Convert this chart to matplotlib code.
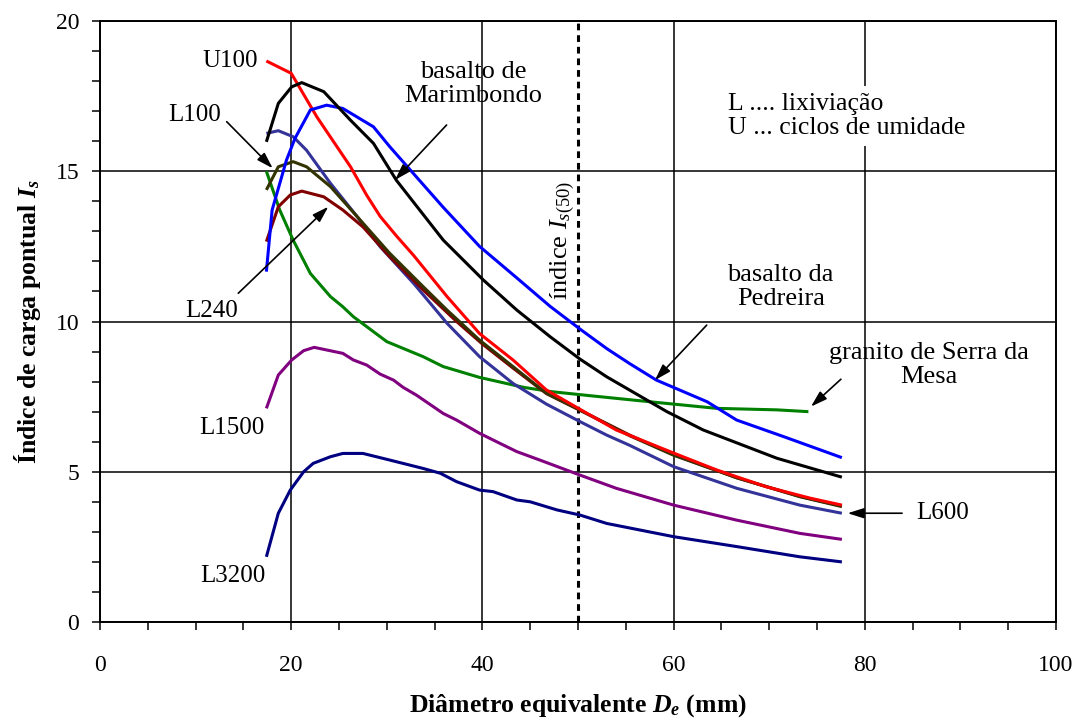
import matplotlib
matplotlib.use('Agg')
import matplotlib.pyplot as plt
from matplotlib.ticker import MultipleLocator

plt.rcParams['font.family'] = ['Liberation Serif', 'DejaVu Serif']
plt.rcParams['mathtext.fontset'] = 'custom'
plt.rcParams['mathtext.rm'] = 'Liberation Serif'
plt.rcParams['mathtext.it'] = 'Liberation Serif:italic'
plt.rcParams['mathtext.bf'] = 'Liberation Serif:bold'
plt.rcParams['mathtext.bfit'] = 'Liberation Serif:italic:bold'

# --- data (De in mm, Is) ---
u100_x = [17.4, 20.0, 22.7, 26.2, 27.9, 29.3, 31.0, 32.8, 36.3, 39.7, 43.2, 46.7, 50.2, 54.0, 60.1, 64.5, 69.7, 74.3, 77.6]
u100_y = [18.67, 18.26, 16.8, 15.15, 14.2, 13.5, 12.85, 12.2, 10.83, 9.6, 8.72, 7.72, 7.08, 6.39, 5.61, 5.06, 4.5, 4.12, 3.89]

marimbondo_x = [17.4, 18.65, 20.05, 21.1, 23.4, 26.2, 28.6, 31.0, 35.9, 40.1, 43.6, 47.1, 50.2, 53.0, 59.3, 63.1, 70.8, 77.6]
marimbondo_y = [15.98, 17.26, 17.81, 17.95, 17.65, 16.7, 15.93, 14.7, 12.71, 11.38, 10.38, 9.49, 8.75, 8.16, 7.0, 6.39, 5.45, 4.82]

pedreira_x = [17.4, 18.0, 19.5, 20.4, 22.0, 23.7, 25.4, 28.6, 30.3, 35.9, 39.7, 43.6, 47.1, 50.2, 53.0, 55.4, 58.2, 63.5, 66.6, 71.5, 77.6]
pedreira_y = [11.66, 13.71, 15.37, 16.1, 17.04, 17.2, 17.09, 16.48, 15.82, 13.8, 12.5, 11.45, 10.5, 9.75, 9.1, 8.6, 8.05, 7.33, 6.72, 6.17, 5.47]

l600_x = [17.4, 18.65, 20.2, 21.6, 24.1, 26.9, 29.3, 32.8, 36.3, 39.7, 43.2, 46.7, 50.2, 53.0, 55.4, 60.0, 66.6, 73.2, 77.6]
l600_y = [16.26, 16.35, 16.15, 15.7, 14.6, 13.49, 12.49, 11.27, 9.94, 8.83, 7.94, 7.25, 6.67, 6.22, 5.88, 5.17, 4.45, 3.89, 3.62]

l100_x = [17.4, 18.65, 20.2, 21.6, 24.1, 26.9, 30.3, 33.8, 36.3, 39.7, 43.2, 46.7, 50.2, 55.4, 60.0, 66.6, 73.2, 77.6]
l100_y = [14.38, 15.15, 15.32, 15.15, 14.49, 13.49, 12.27, 11.16, 10.38, 9.38, 8.5, 7.61, 7.05, 6.2, 5.55, 4.8, 4.17, 3.84]

l240_x = [17.4, 18.65, 19.9, 21.1, 23.4, 25.4, 27.5, 30.3, 33.8, 37.3, 40.0, 43.2, 46.7, 50.2, 55.4, 60.0, 66.6, 73.2, 77.6]
l240_y = [12.66, 13.82, 14.21, 14.34, 14.15, 13.71, 13.15, 12.16, 11.05, 10.0, 9.25, 8.45, 7.6, 7.05, 6.22, 5.57, 4.8, 4.18, 3.86]

granito_x = [17.4, 18.8, 20.2, 22.0, 24.1, 25.4, 26.5, 30.0, 33.8, 35.9, 39.7, 44.3, 47.1, 51.3, 57.5, 64.5, 70.8, 74.1]
granito_y = [15.0, 13.71, 12.71, 11.6, 10.83, 10.49, 10.16, 9.33, 8.83, 8.5, 8.14, 7.81, 7.67, 7.53, 7.33, 7.11, 7.06, 7.0]

l1500_x = [17.4, 18.65, 20.05, 21.3, 22.4, 25.4, 26.5, 27.9, 29.3, 30.7, 31.7, 33.1, 35.9, 37.3, 39.7, 41.8, 43.6, 46.0, 50.2, 54.0, 60.0, 66.6, 73.2, 77.6]
l1500_y = [7.11, 8.22, 8.72, 9.03, 9.14, 8.94, 8.72, 8.55, 8.25, 8.05, 7.81, 7.55, 6.94, 6.72, 6.28, 5.95, 5.67, 5.39, 4.89, 4.45, 3.89, 3.39, 2.95, 2.75]

l3200_x = [17.4, 18.65, 19.9, 21.3, 22.3, 24.1, 25.4, 27.5, 30.3, 33.8, 35.6, 37.3, 39.7, 41.1, 43.6, 45.0, 47.8, 50.2, 53.0, 60.0, 66.6, 73.2, 77.6]
l3200_y = [2.17, 3.62, 4.39, 5.0, 5.28, 5.5, 5.61, 5.61, 5.39, 5.11, 4.95, 4.67, 4.39, 4.34, 4.06, 4.0, 3.73, 3.56, 3.28, 2.84, 2.51, 2.17, 2.0]

is50_x = 50

fig = plt.figure(figsize=(10.78, 7.2), dpi=100)
ax = fig.add_axes([0.0928, 0.1361, 0.8868, 0.8347])

series = [
    (l3200_x, l3200_y, '#000080'),
    (l1500_x, l1500_y, '#800080'),
    (granito_x, granito_y, '#008000'),
    (l600_x, l600_y, '#333399'),
    (l240_x, l240_y, '#800000'),
    (l100_x, l100_y, '#333300'),
    (u100_x, u100_y, '#FF0000'),
    (pedreira_x, pedreira_y, '#0000FF'),
    (marimbondo_x, marimbondo_y, '#000000'),
]
for xs, ys, c in series:
    ax.plot(xs, ys, color=c, lw=2.2, solid_capstyle='butt', solid_joinstyle='round', zorder=3)

ax.axvline(is50_x, color='black', lw=2.2, ls=(0, (2.2, 1.6)), zorder=2)

ax.set_xlim(0, 100)
ax.set_ylim(0, 20)
ax.xaxis.set_major_locator(MultipleLocator(20))
ax.xaxis.set_minor_locator(MultipleLocator(5))
ax.yaxis.set_major_locator(MultipleLocator(5))
ax.yaxis.set_minor_locator(MultipleLocator(1))
ax.grid(True, which='major', color='black', lw=1.1)
ax.tick_params(which='both', direction='out', length=6, width=1.1, labelsize=17)
ax.tick_params(axis='x', pad=18)
ax.tick_params(axis='y', pad=9)
for s in ax.spines.values():
    s.set_linewidth(1.4)

ax.set_xlabel(r'Diâmetro equivalente $\mathbfit{D}_{\mathbfit{e}}$ (mm)', fontsize=18.5, fontweight='bold')
ax.xaxis.set_label_coords(0.5, -0.116)
ax.set_ylabel(r'Índice de carga pontual $\mathbfit{I}_{\mathbfit{s}}$', fontsize=18.5, fontweight='bold')
ax.yaxis.set_label_coords(-0.06, 0.5)

fs = 18
fs2 = 19
arr = dict(arrowstyle='-|>,head_length=0.7,head_width=0.22', color='black', lw=1.2,
           shrinkA=0, shrinkB=0, mutation_scale=14)

ax.text(16.5, 18.67, 'U100', fontsize=fs, ha='right', va='center')
ax.text(9.9, 16.87, 'L100', fontsize=fs, ha='center', va='center')
ax.annotate('', xy=(18.06, 15.1), xytext=(13.25, 16.65), arrowprops=arr)
ax.text(11.7, 10.35, 'L240', fontsize=fs, ha='center', va='center')
ax.annotate('', xy=(23.88, 13.82), xytext=(14.46, 10.94), arrowprops=arr)
ax.text(13.8, 6.46, 'L1500', fontsize=fs, ha='center', va='center')
ax.text(13.9, 1.53, 'L3200', fontsize=fs, ha='center', va='center')
ax.text(88.1, 3.63, 'L600', fontsize=fs, ha='center', va='center')
ax.annotate('', xy=(78.2, 3.62), xytext=(83.9, 3.62), arrowprops=arr)

ax.text(39.0, 17.9, 'basalto de\nMarimbondo', fontsize=fs2, ha='center', va='center', linespacing=1.15)
ax.annotate('', xy=(30.86, 14.71), xytext=(36.25, 16.54), arrowprops=arr)
ax.text(71.2, 11.15, 'basalto da\nPedreira', fontsize=fs2, ha='center', va='center', linespacing=1.15)
ax.annotate('', xy=(58.05, 8.05), xytext=(63.46, 9.88), arrowprops=arr)
ax.text(86.7, 8.55, 'granito de Serra da\nMesa', fontsize=fs2, ha='center', va='center', linespacing=1.15)
ax.annotate('', xy=(74.37, 7.17), xytext=(77.5, 8.08), arrowprops=arr)

ax.text(48.4, 12.7, r'índice $I_{\mathit{s(50)}}$', fontsize=fs2, rotation=90, ha='center', va='center')

ax.text(65.7, 16.84, 'L .... lixiviação\nU ... ciclos de umidade', fontsize=18.5, ha='left', va='center',
        linespacing=1.1, bbox=dict(facecolor='white', edgecolor='none', pad=5), zorder=4)

plt.savefig('out.png', dpi=100)
plt.close()
